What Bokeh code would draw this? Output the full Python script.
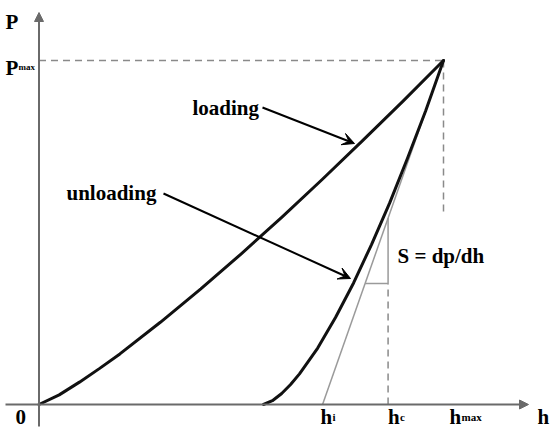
from bokeh.plotting import figure
from bokeh.models import Range1d, Arrow, VeeHead, NormalHead
from bokeh.core.properties import value
from bokeh.embed import file_html
from bokeh.resources import INLINE

# Normalised indentation depth (h/hmax) and load (P/Pmax)
loading_h = [0.0, 0.05, 0.10, 0.15, 0.20, 0.30, 0.40, 0.50, 0.60, 0.70, 0.80, 0.90, 1.0]
loading_P = [0.0, 0.028, 0.065, 0.105, 0.147, 0.239, 0.336, 0.438, 0.544, 0.654, 0.767, 0.882, 1.0]
unloading_h = [0.555, 0.577, 0.600, 0.622, 0.644, 0.689, 0.733, 0.778, 0.822, 0.867, 0.911, 0.956, 1.0]
unloading_P = [0.0, 0.011, 0.032, 0.058, 0.089, 0.164, 0.253, 0.354, 0.465, 0.586, 0.716, 0.854, 1.0]
h_i = 0.701
h_c = 0.863
h_max = 1.0
P_max = 1.0
P_triangle = 0.352          # lower edge of the slope triangle
P_hmax_dash_end = 0.555     # where the dashed line under hmax stops

# pixel -> data helpers (origin at pixel 38.5, 404; hmax = 404.5 px, Pmax = 344 px)
OX, OY, SX, SY = 38.5, 404.0, 404.5, 344.0
def hx(px):
    return (px - OX) / SX
def py(pyy):
    return (OY - pyy) / SY

W, H = 550, 429
p = figure(width=W, height=H,
           x_range=Range1d(hx(0), hx(W)), y_range=Range1d(py(H), py(0)),
           output_backend="svg", toolbar_location=None, min_border=0,
           x_axis_type=None, y_axis_type=None)
p.grid.visible = False
p.outline_line_color = None
p.background_fill_color = "white"
p.border_fill_color = "white"

axis_col = "#6a6a6a"
gray = "#9a9a9a"
dash_col = "#8a8a8a"
black = "#111111"

# axes with arrow heads
p.add_layout(Arrow(end=NormalHead(size=9, fill_color=axis_col, line_color=axis_col),
                   x_start=hx(5), y_start=0, x_end=hx(528), y_end=0,
                   line_color=axis_col, line_width=2))
p.add_layout(Arrow(end=NormalHead(size=9, fill_color=axis_col, line_color=axis_col),
                   x_start=0, y_start=py(426), x_end=0, y_end=py(12),
                   line_color=axis_col, line_width=2))

# dashed guides
p.line([0, h_max], [P_max, P_max], line_color=dash_col, line_width=1.5, line_dash="7 5")
p.line([h_max, h_max], [P_max, P_hmax_dash_end], line_color=dash_col, line_width=1.5, line_dash="7 5")
p.line([h_c, h_c], [0, P_triangle], line_color=dash_col, line_width=1.5, line_dash="7 5")

# tangent (stiffness) line and slope triangle
p.line([h_i, h_max], [0, P_max], line_color=gray, line_width=1.5)
tan_P_at_hc = (h_c - h_i) / (h_max - h_i) * P_max
tan_h_at_tri = h_i + P_triangle / P_max * (h_max - h_i)
p.line([tan_h_at_tri, h_c, h_c], [P_triangle, P_triangle, tan_P_at_hc],
       line_color=gray, line_width=1.5)

# curves
p.line(loading_h, loading_P, line_color=black, line_width=3, line_join="round", line_cap="round")
p.line(unloading_h, unloading_P, line_color=black, line_width=3, line_join="round", line_cap="round")

# pointer arrows
p.add_layout(Arrow(end=VeeHead(size=12, fill_color="black", line_color="black"),
                   x_start=hx(262), y_start=py(107), x_end=hx(354), y_end=py(143),
                   line_color="black", line_width=2))
p.add_layout(Arrow(end=VeeHead(size=12, fill_color="black", line_color="black"),
                   x_start=hx(163), y_start=py(193), x_end=hx(350), y_end=py(278),
                   line_color="black", line_width=2))

font = value("Liberation Serif")
def txt(x, y, s, size, xo=0):
    p.text(x=[x], y=[y], text=[s], text_font=font, text_font_style="bold",
           text_font_size=size, text_color="black", text_align="left",
           text_baseline="alphabetic", x_offset=xo)

big = "21px"
small = "11px"
base = py(416)
txt(hx(192), py(107), "loading", big)
txt(hx(66), py(192), "unloading", big)
txt(hx(397), py(255), "S = dp/dh", big)
txt(hx(5), py(21), "P", big)
txt(hx(5), py(67), "P", big)
txt(hx(18), py(66), "max", "9px")
txt(hx(15), base, "0", big)
txt(h_i, base, "h", big, -2)
txt(h_i, base, "i", small, 10)
txt(h_c, base, "h", big, 0)
txt(h_c, base, "c", small, 12)
txt(h_max, base, "h", big, 6)
txt(h_max, base, "max", small, 18)
txt(hx(537), base, "h", big)

open("out.html", "w").write(file_html(p, INLINE))
